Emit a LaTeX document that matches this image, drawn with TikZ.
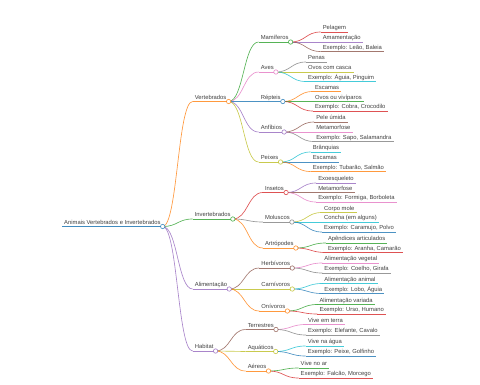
\documentclass[tikz,border=0pt]{standalone}
\usepackage{fontspec}
\setmainfont{Liberation Sans}
\usetikzlibrary{calc}
\pgfdeclarelayer{bg}
\pgfsetlayers{bg,main}
\definecolor{c0}{HTML}{1F77B4}
\definecolor{c1}{HTML}{FF7F0E}
\definecolor{c2}{HTML}{2CA02C}
\definecolor{c3}{HTML}{D62728}
\definecolor{c4}{HTML}{9467BD}
\definecolor{c5}{HTML}{8C564B}
\definecolor{c6}{HTML}{E377C2}
\definecolor{c7}{HTML}{7F7F7F}
\definecolor{c8}{HTML}{BCBD22}
\definecolor{c9}{HTML}{17BECF}
% name, parent, y, colour, text
\newcommand\mmn[5]{%
  \path let \p1=(#2.south east) in node[mm] (#1) at (\x1+30pt,-#3pt) {#5};
  \begin{pgfonlayer}{bg}
  \draw[#4,lk] let \p1=(#2.south east), \p2=(#1.south west) in
     (\p1) .. controls ({(\x1+\x2)/2},\y1) and ({(\x1+\x2)/2},\y2) .. (\p2);
  \draw[#4,lk] (#1.south west) -- (#1.south east);
  \end{pgfonlayer}}
\newcommand\mmc[2]{\draw[#2,lk,fill=white] (#1.south east) circle[radius=2.2pt];}
\begin{document}
\begin{tikzpicture}[x=1pt,y=-1pt,
  mm/.style={anchor=south west, inner xsep=2pt, inner ysep=1pt,
    text height=4.4pt, text depth=1.3pt,
    font=\fontsize{5.85}{6.1}\selectfont, text=black!75},
  lk/.style={line width=0.65pt, draw opacity=0.8}]
\useasboundingbox (0,0) rectangle (480,384);
\node[mm] (root) at (62,226.5) {Animais Vertebrados e Invertebrados};
\begin{pgfonlayer}{bg}
\draw[c0,line width=1.3pt,draw opacity=0.85] (root.south west) -- (root.south east);
\end{pgfonlayer}
% Vertebrados
\mmn{vert}{root}{101.5}{c1}{Vertebrados}
\mmn{mam}{vert}{42}{c2}{Mamíferos}
\mmn{mam1}{mam}{32}{c3}{Pelagem}
\mmn{mam2}{mam}{42}{c4}{Amamentação}
\mmn{mam3}{mam}{51.5}{c5}{Exemplo: Leão, Baleia}
\mmn{ave}{vert}{72}{c6}{Aves}
\mmn{ave1}{ave}{62}{c7}{Penas}
\mmn{ave2}{ave}{72}{c8}{Ovos com casca}
\mmn{ave3}{ave}{81.5}{c9}{Exemplo: Águia, Pinguim}
\mmn{rep}{vert}{101.5}{c0}{Répteis}
\mmn{rep1}{rep}{91.5}{c1}{Escamas}
\mmn{rep2}{rep}{101.5}{c2}{Ovos ou vivíparos}
\mmn{rep3}{rep}{111}{c3}{Exemplo: Cobra, Crocodilo}
\mmn{anf}{vert}{132}{c4}{Anfíbios}
\mmn{anf1}{anf}{122}{c5}{Pele úmida}
\mmn{anf2}{anf}{132}{c6}{Metamorfose}
\mmn{anf3}{anf}{141.5}{c7}{Exemplo: Sapo, Salamandra}
\mmn{pei}{vert}{162}{c8}{Peixes}
\mmn{pei1}{pei}{152}{c9}{Brânquias}
\mmn{pei2}{pei}{162}{c0}{Escamas}
\mmn{pei3}{pei}{171.5}{c1}{Exemplo: Tubarão, Salmão}
% Invertebrados
\mmn{inv}{root}{219}{c2}{Invertebrados}
\mmn{ins}{inv}{192.5}{c3}{Insetos}
\mmn{ins1}{ins}{183}{c4}{Exoesqueleto}
\mmn{ins2}{ins}{192.5}{c5}{Metamorfose}
\mmn{ins3}{ins}{202}{c6}{Exemplo: Formiga, Borboleta}
\mmn{mol}{inv}{222}{c7}{Moluscos}
\mmn{mol1}{mol}{212.5}{c8}{Corpo mole}
\mmn{mol2}{mol}{222}{c9}{Concha (em alguns)}
\mmn{mol3}{mol}{232}{c0}{Exemplo: Caramujo, Polvo}
\mmn{art}{inv}{248}{c1}{Artrópodes}
\mmn{art1}{art}{243}{c2}{Apêndices articulados}
\mmn{art2}{art}{252.5}{c3}{Exemplo: Aranha, Camarão}
% Alimentacao
\mmn{ali}{root}{289}{c4}{Alimentação}
\mmn{her}{ali}{268}{c5}{Herbívoros}
\mmn{her1}{her}{263}{c6}{Alimentação vegetal}
\mmn{her2}{her}{273}{c7}{Exemplo: Coelho, Girafa}
\mmn{car}{ali}{289}{c8}{Carnívoros}
\mmn{car1}{car}{283.5}{c9}{Alimentação animal}
\mmn{car2}{car}{293.5}{c0}{Exemplo: Lobo, Águia}
\mmn{oni}{ali}{311}{c1}{Onívoros}
\mmn{oni1}{oni}{304.5}{c2}{Alimentação variada}
\mmn{oni2}{oni}{314}{c3}{Exemplo: Urso, Humano}
% Habitat
\mmn{hab}{root}{351}{c4}{Habitat}
\mmn{ter}{hab}{329.5}{c5}{Terrestres}
\mmn{ter1}{ter}{324.5}{c6}{Vive em terra}
\mmn{ter2}{ter}{335}{c7}{Exemplo: Elefante, Cavalo}
\mmn{aqu}{hab}{351.5}{c8}{Aquáticos}
\mmn{aqu1}{aqu}{346}{c9}{Vive na água}
\mmn{aqu2}{aqu}{356}{c0}{Exemplo: Peixe, Golfinho}
\mmn{aer}{hab}{371}{c1}{Aéreos}
\mmn{aer1}{aer}{368}{c2}{Vive no ar}
\mmn{aer2}{aer}{378}{c3}{Exemplo: Falcão, Morcego}
% circles
\mmc{root}{c0}
\mmc{vert}{c1}
\mmc{mam}{c2}
\mmc{ave}{c6}
\mmc{rep}{c0}
\mmc{anf}{c4}
\mmc{pei}{c8}
\mmc{inv}{c2}
\mmc{ins}{c3}
\mmc{mol}{c7}
\mmc{art}{c1}
\mmc{ali}{c4}
\mmc{her}{c5}
\mmc{car}{c8}
\mmc{oni}{c1}
\mmc{hab}{c4}
\mmc{ter}{c5}
\mmc{aqu}{c8}
\mmc{aer}{c1}
\end{tikzpicture}
\end{document}
